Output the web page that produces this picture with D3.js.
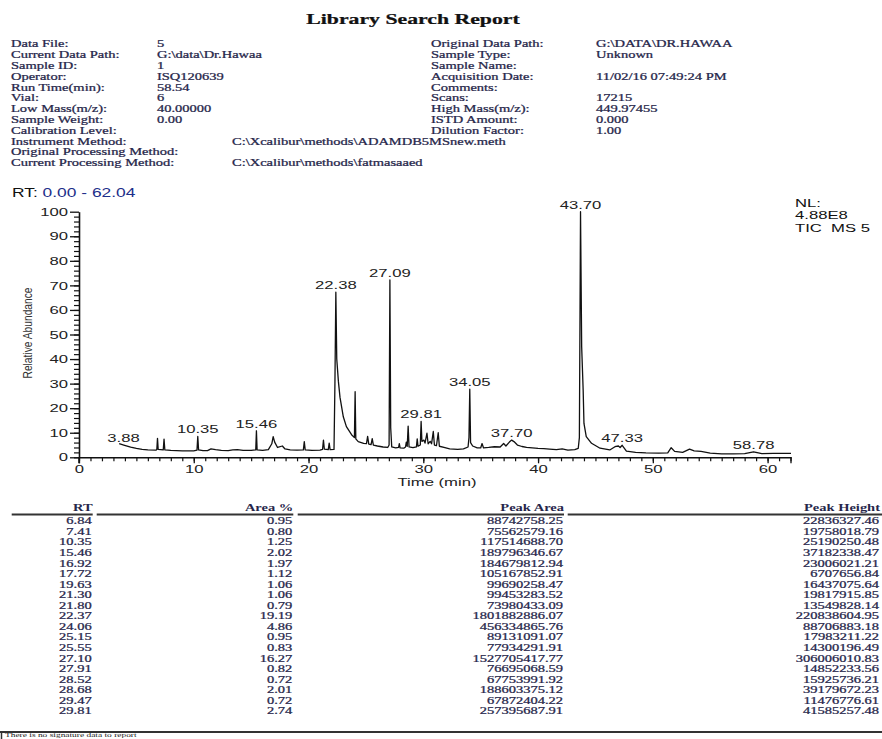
<!DOCTYPE html>
<html><head><meta charset="utf-8">
<script src="https://cdn.jsdelivr.net/npm/d3@7"></script>
<style>body{margin:0;background:#fff;overflow:hidden}</style>
</head><body>
<svg id="c" width="882" height="739"></svg>
<script>
// ---------- data ----------
const reportTitle = "Library Search Report";
const headerLeftLabels = ["Data File:", "Current Data Path:", "Sample ID:", "Operator:", "Run Time(min):", "Vial:", "Low Mass(m/z):", "Sample Weight:", "Calibration Level:", "Instrument Method:", "Original Processing Method:", "Current Processing Method:"];
const headerLeftValues = ["5", "G:\\data\\Dr.Hawaa", "1", "ISQ120639", "58.54", "6", "40.00000", "0.00", "", "", "", ""];
const headerMethodValues = ["", "", "", "", "", "", "", "", "", "C:\\Xcalibur\\methods\\ADAMDB5MSnew.meth", "", "C:\\Xcalibur\\methods\\fatmasaaed"];
const headerRightLabels = ["Original Data Path:", "Sample Type:", "Sample Name:", "Acquisition Date:", "Comments:", "Scans:", "High Mass(m/z):", "ISTD Amount:", "Dilution Factor:"];
const headerRightValues = ["G:\\DATA\\DR.HAWAA", "Unknown", "", "11/02/16 07:49:24 PM", "", "17215", "449.97455", "0.000", "1.00"];

const rtRange = [0.00, 62.04];
const nlText = ["NL:", "4.88E8", "TIC\u00a0 MS 5"];
const xTicks = [0, 10, 20, 30, 40, 50, 60];
const yTicks = [0, 10, 20, 30, 40, 50, 60, 70, 80, 90, 100];

const traceTime = [3.50,3.90,4.50,5.00,5.50,6.00,6.70,6.78,6.84,6.90,7.34,7.41,7.48,8.00,9.00,10.00,10.28,10.35,10.42,10.80,11.20,11.50,11.90,12.40,13.00,13.40,13.80,14.30,15.00,15.40,15.46,15.52,16.00,16.50,16.80,16.92,17.05,17.30,17.72,17.95,18.40,19.00,19.55,19.63,19.71,20.30,21.00,21.22,21.30,21.38,21.72,21.80,21.88,22.22,22.30,22.38,22.46,22.60,22.74,23.03,23.30,23.75,24.00,24.06,24.12,24.33,24.80,25.05,25.15,25.25,25.45,25.55,25.65,26.00,26.50,26.90,27.02,27.09,27.16,27.25,27.60,27.85,27.91,27.98,28.30,28.45,28.52,28.60,28.68,28.76,29.10,29.40,29.47,29.54,29.74,29.81,29.88,30.05,30.15,30.32,30.42,30.60,30.72,30.87,30.97,31.15,31.30,31.40,31.80,32.30,33.00,33.50,33.90,33.98,34.05,34.12,34.30,34.70,35.00,35.12,35.25,35.70,36.20,36.70,37.00,37.20,37.50,37.70,37.90,38.20,38.60,39.00,39.50,40.00,40.50,41.00,41.60,42.10,42.60,43.20,43.50,43.60,43.70,43.80,43.93,44.00,44.20,44.66,45.40,46.25,46.70,47.00,47.15,47.33,47.70,48.50,49.40,50.50,51.30,51.60,51.90,52.60,53.20,53.60,54.20,55.00,56.00,57.00,58.00,58.78,59.50,60.50,61.50,62.04];
const traceAbund = [5.6,5.0,4.1,3.6,3.2,3.0,2.9,3.2,7.7,3.2,3.0,7.4,3.0,2.8,2.6,2.6,2.9,8.5,3.0,2.7,2.7,3.4,3.1,2.8,2.7,3.0,3.1,2.8,2.8,3.0,10.8,3.0,2.8,3.1,5.5,8.4,6.2,4.0,4.6,3.4,3.0,2.9,3.0,6.4,3.0,2.8,2.9,3.2,7.0,3.3,3.1,5.8,3.1,3.2,30,67.2,40,31,24.5,16.5,12.5,9.2,8.0,26.7,7.5,6.4,5.7,5.6,8.5,5.4,5.2,7.6,5.0,4.6,4.2,4.0,5.0,72.2,12,4.2,3.8,4.0,5.6,3.8,3.7,4.2,6.2,4.5,12.7,4.2,3.9,4.2,7.5,4.5,5.0,14.6,6.5,7.0,5.8,9.8,5.5,6.5,5.5,10.5,5.0,4.8,10.0,4.5,4.0,3.4,3.2,3.4,4.2,8.0,27.7,6.0,4.6,3.8,3.8,5.6,3.8,4.0,4.3,4.2,5.6,4.6,6.2,7.0,6.4,5.0,4.4,4.0,3.8,3.6,3.5,3.3,3.1,3.4,2.9,3.1,3.6,8.0,100,45,27.4,13.8,8.4,5.7,3.7,3.0,4.3,4.6,4.0,4.9,2.5,2.0,1.8,1.7,1.8,3.9,2.4,2.0,3.3,2.6,2.4,1.7,1.4,1.4,1.5,2.2,1.5,1.6,1.6,1.6];

const peakLabels = ["3.88","10.35","15.46","22.38","27.09","29.81","34.05","37.70","43.70","47.33","58.78"];
const peakLabelTime = [3.88,10.35,15.46,22.38,27.09,29.81,34.05,37.70,43.70,47.33,58.78];
const peakLabelApex = [5.0,8.5,10.8,67.2,72.2,14.6,27.7,7.0,100,4.9,2.2];

const tableHeaders = ["RT", "Area %", "Peak Area", "Peak Height"];
const rtCol = ["6.84","7.41","10.35","15.46","16.92","17.72","19.63","21.30","21.80","22.37","24.06","25.15","25.55","27.10","27.91","28.52","28.68","29.47","29.81"];
const areaPctCol = ["0.95","0.80","1.25","2.02","1.97","1.12","1.06","1.06","0.79","19.19","4.86","0.95","0.83","16.27","0.82","0.72","2.01","0.72","2.74"];
const peakAreaCol = ["88742758.25","75562579.16","117514688.70","189796346.67","184679812.94","105167852.91","99690258.47","99453283.52","73980433.09","1801882886.07","456334865.76","89131091.07","77934291.91","1527705417.77","76695068.59","67753991.92","188603375.12","67872404.22","257395687.91"];
const peakHeightCol = ["22836327.46","19758018.79","25190250.48","37182338.47","23006021.21","6707656.84","16437075.64","19817915.85","13549828.14","220838604.95","88706883.18","17983211.22","14300196.49","306006010.83","14852233.56","15925736.21","39179672.23","11476776.61","41585257.48"];
const footerText = "There is no signature data to report";

// ---------- drawing ----------
const SX = 1.45;  // horizontal stretch of the scanned report
const svg = d3.select("#c");
const SERIF = "'Liberation Serif','Times New Roman',serif";
const SANS = "'Liberation Sans',Arial,sans-serif";
const INK = "#26264a";

function stext(parent, x, y, str, o) {
  o = Object.assign({size: 10, family: SERIF, weight: "normal", anchor: "start", fill: INK, sx: SX, stroke: 0.25}, o || {});
  return parent.append("text")
    .attr("transform", `translate(${x},${y}) scale(${o.sx},1)`)
    .attr("text-anchor", o.anchor)
    .attr("font-family", o.family).attr("font-size", o.size).attr("font-weight", o.weight)
    .attr("fill", o.fill)
    .attr("stroke", o.stroke ? o.fill : "none").attr("stroke-width", o.stroke)
    .text(str);
}

// title
stext(svg, 413, 24, reportTitle, {size: 15, weight: "bold", anchor: "middle", fill: "#111"});

// header block
const hy0 = 47.3, hdy = 10.8;
headerLeftLabels.forEach((t, i) => stext(svg, 11, hy0 + i * hdy, t));
headerLeftValues.forEach((t, i) => { if (t) stext(svg, 157, hy0 + i * hdy, t); });
headerMethodValues.forEach((t, i) => { if (t) stext(svg, 232, hy0 + i * hdy, t); });
headerRightLabels.forEach((t, i) => stext(svg, 431, hy0 + i * hdy, t));
headerRightValues.forEach((t, i) => { if (t) stext(svg, 596, hy0 + i * hdy, t); });

// RT range
const rtT = stext(svg, 12, 197, "", {size: 12, family: SANS, fill: "#111", stroke: 0});
rtT.append("tspan").text("RT: ");
rtT.append("tspan").attr("fill", "#1d2f8a").text(rtRange[0].toFixed(2) + " - " + rtRange[1].toFixed(2));

// NL
nlText.forEach((t, i) => stext(svg, 795, 206.5 + i * 12.5, t, {size: 11.5, family: SANS, fill: "#111", stroke: 0}));

// scales
const x = d3.scaleLinear().domain(rtRange).range([79, 791]);
const y = d3.scaleLinear().domain([0, 100]).range([457.3, 211.7]);

// minor ticks
svg.append("g").attr("transform", "translate(79,0)")
  .call(d3.axisLeft(y).tickValues(d3.range(0, 100, 2)).tickSize(5).tickFormat(""))
  .call(g => g.select(".domain").remove())
  .selectAll("line").attr("stroke", "#111").attr("stroke-width", 1.2);
svg.append("g").attr("transform", "translate(0,457.3)")
  .call(d3.axisBottom(x).tickValues(d3.range(0, 63, 1)).tickSize(4).tickFormat(""))
  .call(g => g.select(".domain").remove())
  .selectAll("line").attr("stroke", "#111").attr("stroke-width", 1.2);

// major axes
const yAx = svg.append("g").attr("transform", "translate(79,0)")
  .call(d3.axisLeft(y).tickValues(yTicks).tickSizeInner(9).tickSizeOuter(0).tickPadding(2).tickFormat(d3.format("d")));
yAx.select(".domain").attr("stroke", "#111").attr("stroke-width", 1.6);
yAx.selectAll("line").attr("stroke", "#111").attr("stroke-width", 1.3);
yAx.selectAll("text").attr("font-family", SANS).attr("font-size", 11.5).attr("fill", "#222")
  .attr("x", -11 / SX).attr("transform", `scale(${SX},1)`);

const xAx = svg.append("g").attr("transform", "translate(0,457.3)")
  .call(d3.axisBottom(x).tickValues(xTicks).tickSizeInner(6).tickSizeOuter(0).tickPadding(2).tickFormat(d3.format("d")));
xAx.select(".domain").attr("stroke", "#111").attr("stroke-width", 1.6);
xAx.selectAll("line").attr("stroke", "#111").attr("stroke-width", 1.3);
xAx.selectAll(".tick text").attr("font-family", SANS).attr("font-size", 11.5).attr("fill", "#222")
  .attr("transform", `scale(${SX},1)`);
// end ticks
svg.append("line").attr("x1", x(rtRange[1])).attr("x2", x(rtRange[1])).attr("y1", 457.3).attr("y2", 463.3).attr("stroke", "#111").attr("stroke-width", 1.3);
svg.append("line").attr("x1", 79).attr("x2", 79).attr("y1", 457.3).attr("y2", 463.3).attr("stroke", "#111").attr("stroke-width", 1.6);

// axis titles
stext(svg, 437, 486, "Time (min)", {size: 11.5, family: SANS, anchor: "middle", fill: "#222", stroke: 0});
svg.append("text").attr("transform", "translate(32,333) rotate(-90) scale(1,1.35)")
  .attr("text-anchor", "middle").attr("font-family", SANS).attr("font-size", 9.5)
  .attr("textLength", 91).attr("lengthAdjust", "spacingAndGlyphs")
  .attr("fill", "#333").text("Relative Abundance");

// trace
const trace = traceTime.map((t, i) => [t, traceAbund[i]]);
svg.append("path").datum(trace)
  .attr("d", d3.line().x(d => x(d[0])).y(d => y(d[1])))
  .attr("fill", "none").attr("stroke", "#111").attr("stroke-width", 1.3).attr("stroke-linejoin", "round");

// peak labels
peakLabels.forEach((t, i) => stext(svg, x(peakLabelTime[i]), y(peakLabelApex[i]) - 3, t,
  {size: 11.5, family: SANS, anchor: "middle", fill: "#222", stroke: 0}));

// table
const colRight = [92.7, 293.3, 564, 880];
const headY = 511;
tableHeaders.forEach((t, i) => stext(svg, colRight[i], headY, t, {weight: "bold", anchor: "end", stroke: 0}));
const segs = [[11.7, 92.7], [96.7, 293.3], [297.7, 564], [567.7, 882]];
segs.forEach(s => svg.append("line").attr("x1", s[0]).attr("x2", s[1]).attr("y1", 514.5).attr("y2", 514.5)
  .attr("stroke", "#333").attr("stroke-width", 2));
const rowY0 = 524.3, rowDy = 10.56;
[rtCol, areaPctCol, peakAreaCol, peakHeightCol].forEach((col, c) => {
  col.forEach((t, r) => stext(svg, colRight[c] - 1, rowY0 + r * rowDy, t, {anchor: "end"}));
});
svg.append("line").attr("x1", 0).attr("x2", 882).attr("y1", 732).attr("y2", 732).attr("stroke", "#333").attr("stroke-width", 1.8);
svg.append("line").attr("x1", 1.5).attr("x2", 1.5).attr("y1", 732).attr("y2", 739).attr("stroke", "#333").attr("stroke-width", 1.5);
stext(svg, 5, 737.3, footerText, {size: 6.5, fill: "#222", stroke: 0});
</script>
</body></html>
